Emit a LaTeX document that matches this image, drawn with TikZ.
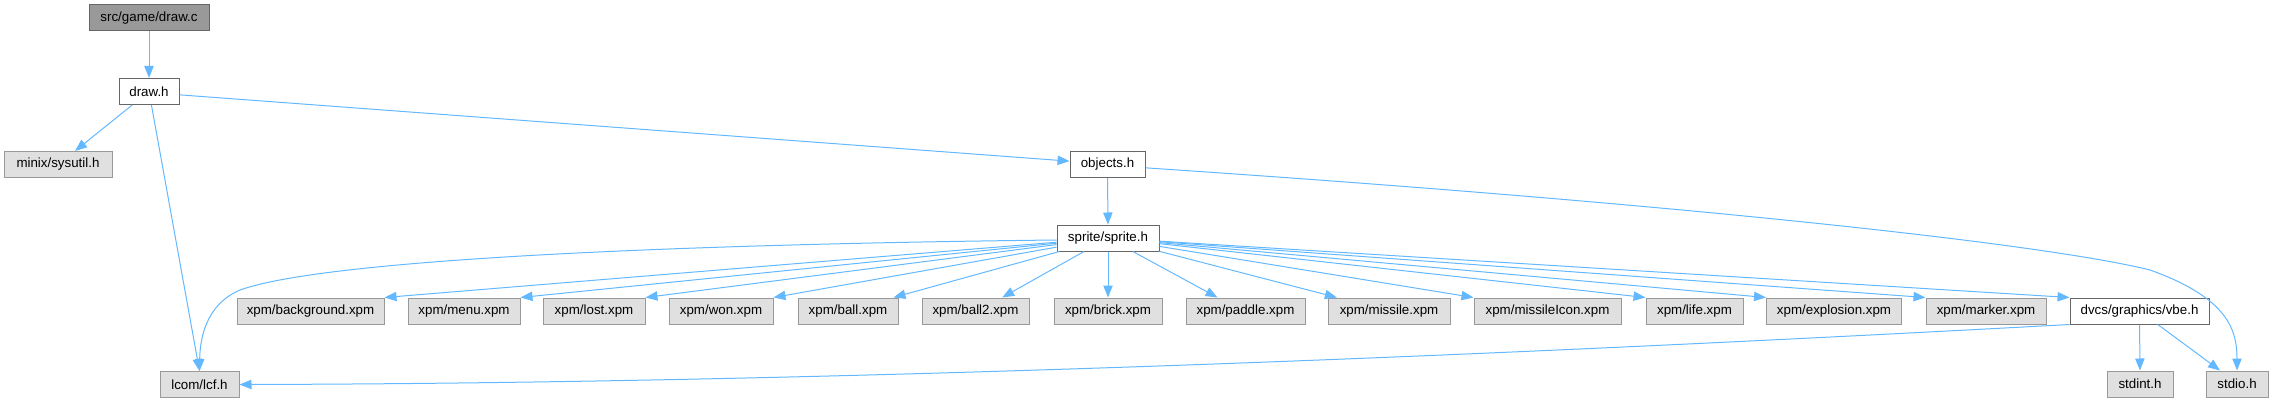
\documentclass[tikz,border=0pt]{standalone}
\usepackage{fontspec}
\setmainfont{Liberation Sans}
\usetikzlibrary{arrows.meta}
\definecolor{edgeblue}{HTML}{63B8FF}
\definecolor{gfill}{HTML}{E0E0E0}
\definecolor{gdraw}{HTML}{999999}
\definecolor{wdraw}{HTML}{666666}
\definecolor{rfill}{HTML}{999999}
\begin{document}
\begin{tikzpicture}[x=0.75pt,y=-0.75pt,
  base/.style={rectangle, inner sep=0pt, minimum height=19.5pt, minimum width=#1*0.75pt,
    line width=0.75pt, font=\fontsize{10pt}{12pt}\selectfont, text=black},
  wnode/.style={base=#1, draw=wdraw, fill=white},
  gnode/.style={base=#1, draw=gdraw, fill=gfill},
  rnode/.style={base=#1, draw=wdraw, fill=rfill},
  dep/.style={draw=edgeblue, line width=0.75pt, -{Triangle[length=9pt,width=7pt]}}]
\useasboundingbox (0,0) rectangle (2273,403);

% nodes
\node[rnode=120] (root) at (149,18) {src/game/draw.c};
\node[wnode=60] (drawh) at (149,91.5) {draw.h};
\node[gnode=108] (sysutil) at (58,164.5) {minix/sysutil.h};
\node[wnode=75] (objects) at (1107.5,164.5) {objects.h};
\node[wnode=102] (sprite) at (1108,238) {sprite/sprite.h};
\node[gnode=79] (lcf) at (199.5,384.5) {lcom/lcf.h};
\node[gnode=147] (bg) at (310.5,311) {xpm/background.xpm};
\node[gnode=112] (menu) at (464,311) {xpm/menu.xpm};
\node[gnode=102] (lost) at (594,311) {xpm/lost.xpm};
\node[gnode=104] (won) at (721,311) {xpm/won.xpm};
\node[gnode=100] (ball) at (848,311) {xpm/ball.xpm};
\node[gnode=107] (ball2) at (975.5,311) {xpm/ball2.xpm};
\node[gnode=108] (brick) at (1108,311) {xpm/brick.xpm};
\node[gnode=119] (paddle) at (1245.5,311) {xpm/paddle.xpm};
\node[gnode=122] (missile) at (1389,311) {xpm/missile.xpm};
\node[gnode=147] (missileicon) at (1547.5,311) {xpm/missileIcon.xpm};
\node[gnode=97] (life) at (1694.5,311) {xpm/life.xpm};
\node[gnode=135] (explosion) at (1834,311) {xpm/explosion.xpm};
\node[gnode=120] (marker) at (1986,311) {xpm/marker.xpm};
\node[wnode=139] (vbe) at (2139.5,311) {dvcs/graphics/vbe.h};
\node[gnode=66] (stdint) at (2140,384) {stdint.h};
\node[gnode=62] (stdio) at (2237,384) {stdio.h};

% edges
\draw[dep] (root) -- (drawh);
\draw[dep] (drawh) -- ([xshift=12.75pt]sysutil.north);
\draw[dep] (drawh) -- (lcf.north);
\draw[dep] ([yshift=-2.5pt]drawh.east) -- ([yshift=2.5pt]objects.west);
\draw[dep] (objects) -- (sprite);
\draw[dep] ([yshift=-2.5pt]objects.east) .. controls (1700,205) and (2050,245) .. (2150,270)
   .. controls (2228,298) and (2237,330) .. (stdio.north);
\draw[dep] ([yshift=-1.5pt]sprite.west) .. controls (700,244) and (330,258) .. (240,290)
   .. controls (205,305) and (200,340) .. (lcf.north);
\draw[dep] (sprite) -- (bg.north east);
\draw[dep] (sprite) -- (menu.north east);
\draw[dep] (sprite) -- (lost.north east);
\draw[dep] (sprite) -- (won.north east);
\draw[dep] (sprite) -- ([xshift=-3.75pt]ball.north east);
\draw[dep] (sprite) -- ([xshift=20pt]ball2.north);
\draw[dep] (sprite) -- (brick);
\draw[dep] (sprite) -- ([xshift=-21pt]paddle.north);
\draw[dep] (sprite) -- ([xshift=7pt]missile.north west);
\draw[dep] (sprite) -- (missileicon.north west);
\draw[dep] (sprite) -- (life.north west);
\draw[dep] (sprite) -- (explosion.north west);
\draw[dep] (sprite) -- (marker.north west);
\draw[dep] (sprite) -- (vbe.north west);
\draw[dep] (vbe.south west) .. controls (1600,350) and (900,383) .. (lcf.east);
\draw[dep] (vbe) -- (stdint);
\draw[dep] (vbe) -- ([xshift=-12.75pt]stdio.north);
\end{tikzpicture}
\end{document}
